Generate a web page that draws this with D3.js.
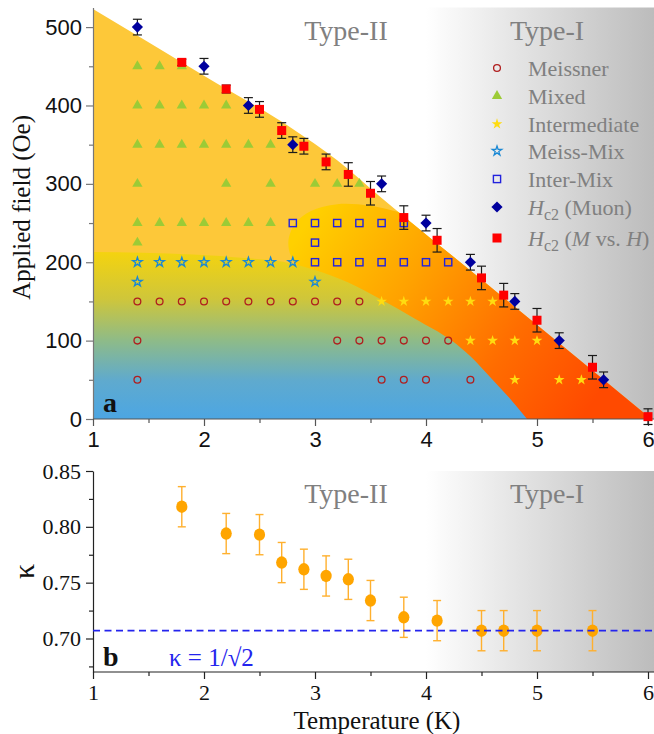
<!DOCTYPE html>
<html>
<head>
<meta charset="utf-8">
<script src="https://cdn.jsdelivr.net/npm/d3@7"></script>
<style>
  html, body { margin: 0; padding: 0; background: #fff; }
  svg { display: block; }
</style>
</head>
<body>
<svg id="chart" width="654" height="734"></svg>
<script>
// ---------- phase diagram data (T in K, H in Oe) ----------
const meissner = [
  [1.4,150],[1.6,150],[1.8,150],[2.0,150],[2.2,150],[2.4,150],[2.6,150],[2.8,150],[3.0,150],[3.2,150],[3.4,150],
  [1.4,100],[3.2,100],[3.4,100],[3.6,100],[3.8,100],[4.0,100],[4.2,100],
  [1.4,50],[3.6,50],[3.8,50],[4.0,50],[4.4,50]
];
const mixed = [
  [1.4,450],[1.6,450],[1.8,450],
  [1.4,400],[1.6,400],[1.8,400],[2.0,400],[2.2,400],
  [1.4,350],[1.6,350],[1.8,350],[2.0,350],[2.2,350],[2.4,350],[2.6,350],
  [1.4,300],[2.2,300],[2.6,300],[3.0,300],[3.2,300],[3.4,300],
  [1.4,250],[1.6,250],[1.8,250],[2.0,250],[2.2,250],[2.4,250],[2.6,250],
  [1.4,225]
];
const intermediate = [
  [3.6,150],[3.8,150],[4.0,150],[4.2,150],[4.4,150],[4.6,150],
  [4.4,100],[4.6,100],[4.8,100],[5.0,100],
  [4.8,50],[5.2,50],[5.4,50]
];
const meissMix = [
  [1.4,200],[1.6,200],[1.8,200],[2.0,200],[2.2,200],[2.4,200],[2.6,200],[2.8,200],
  [1.4,175],[3.0,175]
];
const interMix = [
  [2.8,250],[3.0,250],[3.2,250],[3.4,250],[3.6,250],[3.8,250],
  [3.0,225],
  [3.0,200],[3.2,200],[3.4,200],[3.6,200],[3.8,200],[4.0,200],[4.2,200]
];
// [T, Hc2, error]
const hc2Muon = [
  [1.4,500,10],[2.0,450,10],[2.4,400,10],[2.8,350,10],[3.6,300,10],
  [4.0,250,10],[4.4,200,10],[4.8,150,10],[5.2,100,10],[5.6,50,10]
];
const hc2MvsH = [
  [1.8,455,4],[2.2,421,5],[2.5,395,10],[2.7,368,10],[2.9,348,10],[3.1,328,10],
  [3.3,312,15],[3.5,288,15],[3.8,257,15],[4.1,228,15],[4.5,180,15],[4.7,158,15],
  [5.0,126,15],[5.5,66,15],[6.0,3,10]
];

// phase boundaries
const hc2Edge   = [[1.0,523],[2.0,438],[2.8,370],[3.2,330],[3.6,282],[4.5,178],[5.5,62],[6.03,0]];
const meissEdge = [[1.0,213],[1.9,210],[2.4,205],[2.8,198],[3.0,190],[3.3,174],[3.6,152],[3.9,128],
                   [4.23,100],[4.4,80],[4.6,50],[4.75,27],[4.91,0]];
const bulgeEdge = [[2.95,185],[2.8,203],[2.76,226],[2.82,249],[2.96,265],[3.2,274],[3.5,272],[3.85,262],[4.3,262]];

// ---------- penetration-depth ratio data ----------
const kappaT   = [1.8,2.2,2.5,2.7,2.9,3.1,3.3,3.5,3.8,4.1,4.5,4.7,5.0,5.5];
const kappaV   = [0.818,0.794,0.793,0.768,0.762,0.756,0.753,0.734,0.719,0.716,0.707,0.707,0.707,0.707];
const kappaErr = [0.018,0.018,0.018,0.018,0.018,0.018,0.018,0.018,0.018,0.018,0.018,0.018,0.018,0.018];
const kappaCrit = 1 / Math.SQRT2;

const tempTicks  = [1,2,3,4,5,6];
const fieldTicks = [0,100,200,300,400,500];
const kappaTicks = [0.70,0.75,0.80,0.85];

const legendItems = [
  {type:"meissner", label:"Meissner"},
  {type:"mixed", label:"Mixed"},
  {type:"intermediate", label:"Intermediate"},
  {type:"meissMix", label:"Meiss-Mix"},
  {type:"interMix", label:"Inter-Mix"},
  {type:"muon", label:"muon"},
  {type:"mvh", label:"mvh"}
];

// ---------- layout ----------
const SERIF = "'Liberation Serif','Times New Roman',serif";
const SANS  = "'Liberation Sans',Arial,sans-serif";
const svg = d3.select("#chart");
const defs = svg.append("defs");

const x    = d3.scaleLinear().domain([1, 6]).range([93, 648]);
const yTop = d3.scaleLinear().domain([0, 525]).range([419, 7.5]);
const yBot = d3.scaleLinear().domain([0.67, 0.85]).range([672, 471]);
const RIGHT = 654;

// gradients
function grayGrad(id) {
  const g = defs.append("linearGradient").attr("id", id)
    .attr("gradientUnits","userSpaceOnUse")
    .attr("x1", x(4)).attr("x2", RIGHT).attr("y1",0).attr("y2",0);
  g.append("stop").attr("offset",0).attr("stop-color","#ffffff");
  g.append("stop").attr("offset",1).attr("stop-color","#bcbcbc");
}
grayGrad("grayTop"); grayGrad("grayBot");

const gMeiss = defs.append("linearGradient").attr("id","meissGrad")
  .attr("gradientUnits","userSpaceOnUse")
  .attr("x1",0).attr("x2",0).attr("y1", yTop(213)).attr("y2", yTop(0));
[[0,"#f4d30f"],[0.28,"#cfc63a"],[0.53,"#8ebb88"],[0.77,"#5faace"],[1,"#4ca6e3"]]
  .forEach(([o,c]) => gMeiss.append("stop").attr("offset",o).attr("stop-color",c));

const gInter = defs.append("linearGradient").attr("id","interGrad")
  .attr("gradientUnits","userSpaceOnUse")
  .attr("x1", x(3.0)).attr("y1", yTop(265)).attr("x2", x(5.5)).attr("y2", yTop(20));
[[0,"#ffd000"],[0.35,"#ffa200"],[0.7,"#ff6c00"],[1,"#ff4a00"]]
  .forEach(([o,c]) => gInter.append("stop").attr("offset",o).attr("stop-color",c));

// ---------- panel a ----------
const pa = svg.append("g");
pa.append("rect").attr("x", x(4)).attr("y", yTop(525))
  .attr("width", RIGHT - x(4)).attr("height", yTop(0) - yTop(525))
  .attr("fill","url(#grayTop)");

const hc2Area = d3.area().x(d => x(d[0])).y0(yTop(0)).y1(d => yTop(d[1])).curve(d3.curveMonotoneX);
defs.append("clipPath").attr("id","hc2Clip").append("path").attr("d", hc2Area(hc2Edge));

pa.append("path").attr("d", hc2Area(hc2Edge)).attr("fill","#fdc839");

// intermediate (orange) region, clipped by the Hc2 boundary
const bulgeLine = d3.line().x(d => x(d[0])).y(d => yTop(d[1])).curve(d3.curveCatmullRom);
const interPath = bulgeLine(bulgeEdge) +
  "L" + x(4.6) + "," + yTop(300) +
  "L" + x(6.6) + "," + yTop(60) +
  "L" + x(6.6) + "," + yTop(0) +
  "L" + x(4.0) + "," + yTop(0) +
  "L" + x(3.2) + "," + yTop(120) + "Z";
pa.append("path").attr("d", interPath).attr("fill","url(#interGrad)")
  .attr("clip-path","url(#hc2Clip)");

const meissArea = d3.area().x(d => x(d[0])).y0(yTop(0)).y1(d => yTop(d[1])).curve(d3.curveMonotoneX);
pa.append("path").attr("d", meissArea(meissEdge)).attr("fill","url(#meissGrad)");

// axes
function styleAxis(g, color, font, size) {
  g.select(".domain").attr("stroke", color).attr("stroke-width", 1.2);
  g.selectAll(".tick line").attr("stroke", color).attr("stroke-width", 1.2);
  g.selectAll(".tick text").attr("fill","#111").style("font-family", font).style("font-size", size + "px");
}
const axYa = pa.append("g").attr("transform", `translate(${x(1)},0)`)
  .call(d3.axisLeft(yTop).tickValues(fieldTicks).tickSize(7).tickSizeOuter(0).tickPadding(4));
styleAxis(axYa, "#777", SANS, 22);
pa.append("g").attr("transform", `translate(${x(1)},0)`)
  .call(d3.axisLeft(yTop).tickValues([50,150,250,350,450]).tickSize(4).tickFormat(""))
  .call(g => { g.select(".domain").remove(); g.selectAll("line").attr("stroke","#777").attr("stroke-width",1.2); });

const axXa = pa.append("g").attr("transform", `translate(0,${yTop(0)})`)
  .call(d3.axisBottom(x).tickValues(tempTicks).tickSize(7).tickSizeOuter(0).tickPadding(5).tickFormat(d3.format("d")));
styleAxis(axXa, "#555", SANS, 22);
axXa.select(".domain").attr("d", `M${x(1)},0H${RIGHT}`);
pa.append("g").attr("transform", `translate(0,${yTop(0)})`)
  .call(d3.axisBottom(x).tickValues([1.5,2.5,3.5,4.5,5.5]).tickSize(4).tickFormat(""))
  .call(g => { g.select(".domain").remove(); g.selectAll("line").attr("stroke","#555").attr("stroke-width",1.2); });

// markers
const starPath = d3.symbol(d3.symbolStar, 36)();
const starOutline = d3.symbol(d3.symbolStar, 28)();
const triPath = d3.symbol(d3.symbolTriangle, 46)();
function marker(g, type, cx, cy) {
  const t = `translate(${cx},${cy})`;
  switch (type) {
    case "meissner":
      g.append("circle").attr("cx",cx).attr("cy",cy).attr("r",3.4)
        .attr("fill","none").attr("stroke","#b01e1e").attr("stroke-width",1.3); break;
    case "mixed":
      g.append("path").attr("d", triPath).attr("transform", t).attr("fill","#9ccb36"); break;
    case "intermediate":
      g.append("path").attr("d", starPath).attr("transform", t).attr("fill","#ffdc10"); break;
    case "meissMix":
      g.append("path").attr("d", starOutline).attr("transform", t)
        .attr("fill","none").attr("stroke","#1a88d4").attr("stroke-width",1.3); break;
    case "interMix":
      g.append("rect").attr("x",cx-3.6).attr("y",cy-3.6).attr("width",7.2).attr("height",7.2)
        .attr("fill","none").attr("stroke","#2222dd").attr("stroke-width",1.4); break;
    case "muon":
      g.append("path").attr("d","M0,-5.6L5.6,0L0,5.6L-5.6,0Z").attr("transform", t).attr("fill","#00009e"); break;
    case "mvh":
      g.append("rect").attr("x",cx-4.5).attr("y",cy-4.5).attr("width",9).attr("height",9).attr("fill","#ff0000"); break;
  }
}

const mk = pa.append("g");
[["meissner",meissner],["mixed",mixed],["intermediate",intermediate],["meissMix",meissMix],["interMix",interMix]]
  .forEach(([type, pts]) => pts.forEach(d => marker(mk, type, x(d[0]), yTop(d[1]))));

// Hc2 error bars
function errBar(g, cx, yLo, yHi, color, w, cap) {
  g.append("line").attr("x1",cx).attr("x2",cx).attr("y1",yLo).attr("y2",yHi)
    .attr("stroke",color).attr("stroke-width",w);
  [yLo, yHi].forEach(yy => g.append("line").attr("x1",cx-cap).attr("x2",cx+cap).attr("y1",yy).attr("y2",yy)
    .attr("stroke",color).attr("stroke-width",w));
}
const eb = pa.append("g");
hc2MvsH.concat(hc2Muon).forEach(d => errBar(eb, x(d[0]), yTop(d[1]-d[2]), yTop(d[1]+d[2]), "#1a1a1a", 1.2, 4.5));
hc2MvsH.forEach(d => marker(eb, "mvh", x(d[0]), yTop(d[1])));
hc2Muon.forEach(d => marker(eb, "muon", x(d[0]), yTop(d[1])));

// region labels
function typeLabels(g, yb) {
  g.append("text").attr("x", 346).attr("y", yb).attr("text-anchor","middle")
    .style("font-family", SERIF).style("font-size","28px").attr("fill","#808080").text("Type-II");
  g.append("text").attr("x", 547).attr("y", yb).attr("text-anchor","middle")
    .style("font-family", SERIF).style("font-size","28px").attr("fill","#808080").text("Type-I");
}
typeLabels(pa, 40);

// legend
const legY = [68, 96, 124, 151, 179, 207, 238];
const lg = pa.append("g");
legendItems.forEach((item, i) => {
  marker(lg, item.type, 497, legY[i]);
  const t = lg.append("text").attr("x", 528).attr("y", legY[i] + 7.5)
    .style("font-family", SERIF).style("font-size","22px").attr("fill","#808080");
  if (item.type === "muon" || item.type === "mvh") {
    t.append("tspan").style("font-style","italic").text("H");
    t.append("tspan").attr("dy", 5).style("font-size","16px").text("c2");
    if (item.type === "muon") {
      t.append("tspan").attr("dy", -5).text(" (Muon)");
    } else {
      t.append("tspan").attr("dy", -5).text(" (");
      t.append("tspan").style("font-style","italic").text("M");
      t.append("tspan").text(" vs. ");
      t.append("tspan").style("font-style","italic").text("H");
      t.append("tspan").text(")");
    }
  } else {
    t.text(item.label);
  }
});

pa.append("text").attr("x", 103).attr("y", 412)
  .style("font-family", SERIF).style("font-size","28px").style("font-weight","bold").attr("fill","#111").text("a");
pa.append("text").attr("transform", `translate(30,${yTop(270)}) rotate(-90)`).attr("text-anchor","middle")
  .style("font-family", SERIF).style("font-size","25px").attr("fill","#111").text("Applied field (Oe)");

// ---------- panel b ----------
const pb = svg.append("g");
pb.append("rect").attr("x", x(4)).attr("y", yBot(0.85))
  .attr("width", RIGHT - x(4)).attr("height", yBot(0.67) - yBot(0.85)).attr("fill","url(#grayBot)");
typeLabels(pb, 503);

const axYb = pb.append("g").attr("transform", `translate(${x(1)},0)`)
  .call(d3.axisLeft(yBot).tickValues(kappaTicks).tickSize(7).tickSizeOuter(0).tickPadding(5).tickFormat(d3.format(".2f")));
styleAxis(axYb, "#222", SERIF, 22);
pb.append("g").attr("transform", `translate(${x(1)},0)`)
  .call(d3.axisLeft(yBot).tickValues([0.675,0.725,0.775,0.825]).tickSize(4).tickFormat(""))
  .call(g => { g.select(".domain").remove(); g.selectAll("line").attr("stroke","#222").attr("stroke-width",1.2); });

const axXb = pb.append("g").attr("transform", `translate(0,${yBot(0.67)})`)
  .call(d3.axisBottom(x).tickValues(tempTicks).tickSize(7).tickSizeOuter(0).tickPadding(5).tickFormat(d3.format("d")));
styleAxis(axXb, "#222", SERIF, 22);
axXb.select(".domain").attr("d", `M${x(1)},0H${RIGHT}`);
pb.append("g").attr("transform", `translate(0,${yBot(0.67)})`)
  .call(d3.axisBottom(x).tickValues([1.5,2.5,3.5,4.5,5.5]).tickSize(4).tickFormat(""))
  .call(g => { g.select(".domain").remove(); g.selectAll("line").attr("stroke","#222").attr("stroke-width",1.2); });

const kb = pb.append("g");
kappaT.forEach((t, i) => errBar(kb, x(t), yBot(kappaV[i]-kappaErr[i]), yBot(kappaV[i]+kappaErr[i]), "#ffb02e", 1.4, 4));
kappaT.forEach((t, i) => kb.append("ellipse").attr("cx", x(t)).attr("cy", yBot(kappaV[i]))
  .attr("rx", 5.6).attr("ry", 6.2).attr("fill","#ffa500"));

pb.append("line").attr("x1", x(1)).attr("x2", RIGHT).attr("y1", yBot(kappaCrit)).attr("y2", yBot(kappaCrit))
  .attr("stroke","#2424ee").attr("stroke-width",1.8).attr("stroke-dasharray","7,4.5");

pb.append("text").attr("x", 169).attr("y", 666)
  .style("font-family", SERIF).style("font-size","25px").attr("fill","#2424ee").text("κ = 1/√2");
pb.append("text").attr("x", 103).attr("y", 666)
  .style("font-family", SERIF).style("font-size","28px").style("font-weight","bold").attr("fill","#111").text("b");
pb.append("text").attr("transform", `translate(34,${yBot(0.76)}) rotate(-90)`).attr("text-anchor","middle")
  .style("font-family", SERIF).style("font-size","30px").attr("fill","#111").text("κ");
pb.append("text").attr("x", 377).attr("y", 729).attr("text-anchor","middle")
  .style("font-family", SERIF).style("font-size","25px").attr("fill","#111").text("Temperature (K)");
</script>
</body>
</html>
